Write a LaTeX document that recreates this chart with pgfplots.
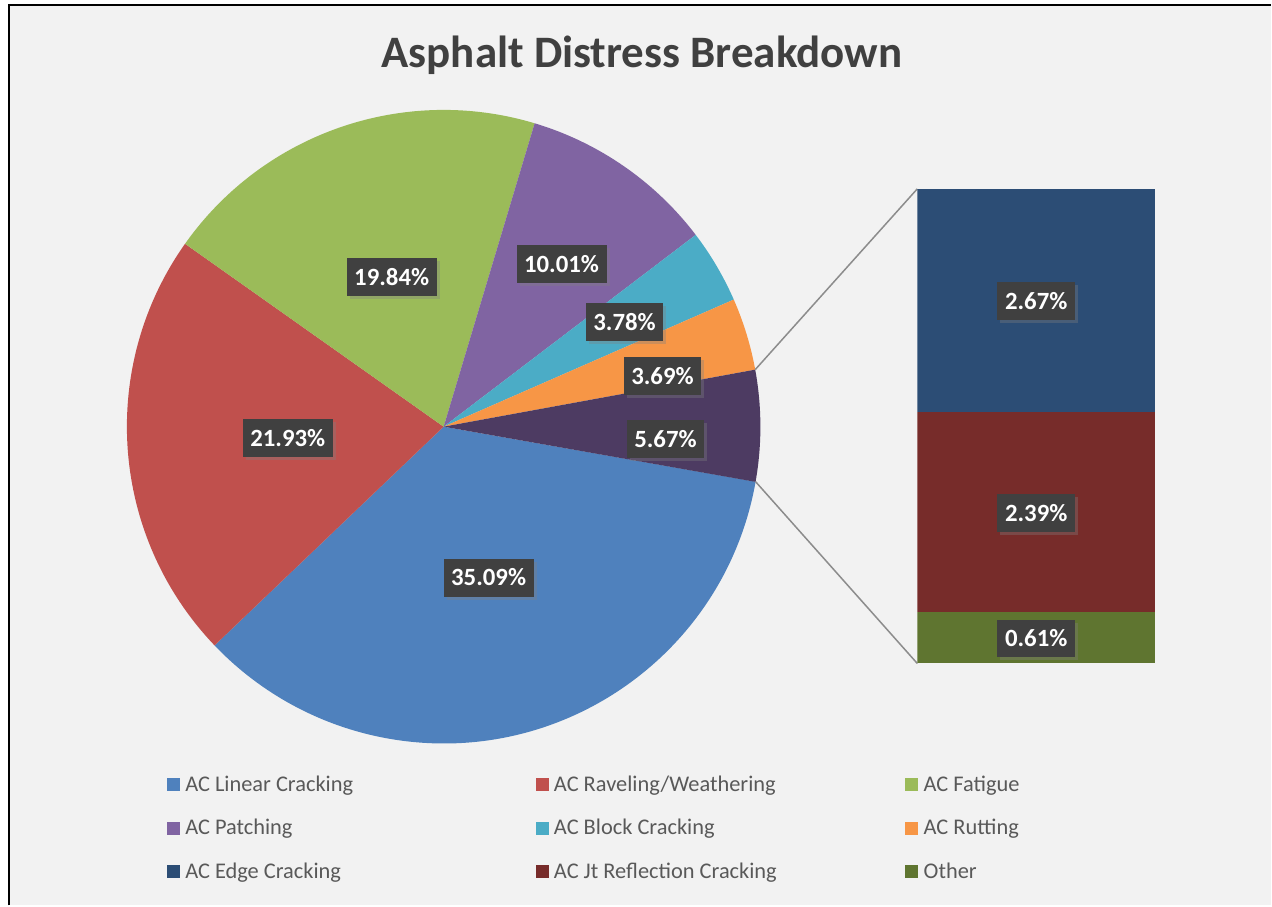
\documentclass[border=0pt]{standalone}
\usepackage{pgfplots}
\pgfplotsset{compat=1.18}
\usepackage{pgfplotstable}
\usepackage{fontspec}
\setmainfont{Carlito}
\usetikzlibrary{shadows}

\definecolor{cLinear}{HTML}{4F81BD}
\definecolor{cRavel}{HTML}{C0504D}
\definecolor{cFatigue}{HTML}{9BBB59}
\definecolor{cPatch}{HTML}{8064A2}
\definecolor{cBlock}{HTML}{4BACC6}
\definecolor{cRut}{HTML}{F79646}
\definecolor{cOtherPie}{HTML}{4D3B62}
\definecolor{cEdge}{HTML}{2C4D75}
\definecolor{cJt}{HTML}{772C2A}
\definecolor{cOther}{HTML}{5F7530}
\definecolor{bg}{HTML}{F2F2F2}
\definecolor{txt}{HTML}{595959}
\definecolor{lbl}{HTML}{404040}

% pie slices, clockwise from -10 deg; last row is the split-off "other" group
\pgfplotstableread[col sep=comma]{
val,col
35.09,cLinear
21.93,cRavel
19.84,cFatigue
10.01,cPatch
3.78,cBlock
3.69,cRut
5.67,cOtherPie
}\pietable

\newcommand{\R}{158.5pt}

\tikzset{
  px/.style={x=0.5pt, y=-0.5pt, yshift=453pt},
  dlabel/.style={fill=lbl, text=white, font=\fontsize{12.4}{14}\selectfont\bfseries,
    inner xsep=3.8pt, inner ysep=0pt, minimum height=19pt,
    drop shadow={shadow xshift=1.5pt, shadow yshift=-1.5pt, opacity=0.35}},
  leg/.style={anchor=base west, text=txt, font=\fontsize{11.2}{13}\selectfont, inner sep=0pt},
}

\begin{document}
\begin{tikzpicture}
% background and frame (pixel coordinates)
\begin{scope}[px]
  \fill[white] (0,0) rectangle (1272,906);
  \fill[bg] (9,5) rectangle (1272,906);
  \draw[black, line width=1pt] (9.5,906) -- (9.5,5.5) -- (1272,5.5);
\end{scope}

\begin{axis}[
  x=\R, y=\R,
  xmin=-1.4006, xmax=2.6120, ymin=-1.5110, ymax=1.3470,
  hide axis, clip=false,
]
\pgfplotsextra{
  \xdef\angA{-10}
  \foreach \i in {0,...,6}{
    \pgfplotstablegetelem{\i}{val}\of\pietable
    \let\sliceval\pgfplotsretval
    \pgfplotstablegetelem{\i}{col}\of\pietable
    \let\slicecol\pgfplotsretval
    \pgfmathsetmacro\angB{\angA-3.6*\sliceval}
    \ifnum\i=6 \xdef\ostart{\angA}\fi
    \fill[\slicecol] (axis cs:0,0) -- ++(\angA:\R)
      arc[start angle=\angA, end angle=\angB, radius=\R] -- cycle;
    \xdef\angA{\angB}
  }
  % connector lines to the bar
  \draw[gray!90, line width=0.75pt] (axis cs:0,0) ++(\ostart:\R) -- (axis cs:1.4953,0.7508);
  \draw[gray!90, line width=0.75pt] (axis cs:0,0) ++(-10:\R) -- (axis cs:1.4953,-0.7476);
}
\end{axis}

% split-off group as stacked bar
\begin{axis}[
  at={(459pt,121pt)}, anchor=south west,
  scale only axis, width=119pt, height=237.5pt,
  xmin=0, xmax=1, ymin=0, ymax=5.67,
  hide axis, enlargelimits=false,
  ybar stacked, bar width=119pt,
]
\addplot[fill=cOther, draw=none] coordinates {(0.5,0.61)};
\addplot[fill=cJt, draw=none] coordinates {(0.5,2.39)};
\addplot[fill=cEdge, draw=none] coordinates {(0.5,2.67)};
\end{axis}

\begin{scope}[px]
  % title
  \node[anchor=base, text=lbl, font=\fontsize{22.5}{27}\selectfont\bfseries, inner sep=0pt]
    at (642.5,68) {Asphalt Distress Breakdown};
  % data labels
  \node[dlabel] at (489,578) {35.09\%};
  \node[dlabel] at (288,438) {21.93\%};
  \node[dlabel] at (392,277) {19.84\%};
  \node[dlabel] at (562,264) {10.01\%};
  \node[dlabel] at (625,322) {3.78\%};
  \node[dlabel] at (663,376) {3.69\%};
  \node[dlabel] at (666,439) {5.67\%};
  \node[dlabel] at (1037,301) {2.67\%};
  \node[dlabel] at (1037,513) {2.39\%};
  \node[dlabel] at (1037,639) {0.61\%};
  % legend
  \foreach \col/\xx/\yy/\name in {
    cLinear/167/792/AC Linear Cracking,
    cRavel/536/792/AC Raveling\slash Weathering,
    cFatigue/906/792/AC Fatigue,
    cPatch/167/835.5/AC Patching,
    cBlock/536/835.5/AC Block Cracking,
    cRut/906/835.5/AC Rutting,
    cEdge/167/879/AC Edge Cracking,
    cJt/536/879/AC Jt Reflection Cracking,
    cOther/906/879/Other}{
    \fill[\col] (\xx,\yy-13) rectangle ++(13,13);
    \node[leg] at (\xx+18,\yy) {\name};
  }
\end{scope}
\end{tikzpicture}
\end{document}
